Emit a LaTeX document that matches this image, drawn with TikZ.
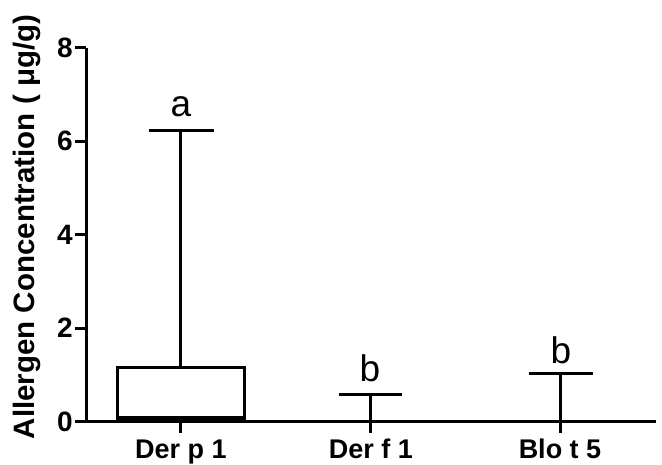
\documentclass[tikz,border=0pt]{standalone}
\usepackage{fontspec}
\setmainfont{Liberation Sans}
\begin{document}
\begin{tikzpicture}[x=1pt,y=-1pt,
  axisline/.style={line width=3pt},
  plotline/.style={line width=3pt},
  ticklab/.style={font=\fontsize{28}{28}\selectfont\bfseries, inner sep=0pt},
  grplab/.style={font=\fontsize{37}{37}\selectfont, inner sep=0pt},
  catlab/.style={font=\fontsize{27}{27}\selectfont\bfseries, inner sep=0pt}]
\useasboundingbox (0,0) rectangle (662,464);
% axes
\draw[axisline] (86,47.7) -- (86,421.7) -- (656,421.7);
\foreach \v/\n in {0/t0,2/t2,4/t4,6/t6,8/t8}{
  \draw[axisline] (75,{421.7-46.75*\v}) -- (86,{421.7-46.75*\v});
  \node[ticklab, anchor=east] (\n) at (73,{421.7-46.75*\v}) {\v};
}
\foreach \x in {180,370,560}{
  \draw[axisline] (\x,421.7) -- (\x,433);
}
\node[catlab, anchor=base] (c1) at (181,458) {Der p 1};
\node[catlab, anchor=base] (c2) at (371,458) {Der f 1};
\node[catlab, anchor=base] (c3) at (560,458) {Blo t 5};
% y label
\node[rotate=90, font=\fontsize{29.5}{29.5}\selectfont\bfseries, inner sep=0pt] (ylab) at (27,227) {Allergen Concentration ( μg/g)};
% Der p 1
\draw[plotline] (117.7,367.7) rectangle (244.3,420);
\draw[line width=4pt] (117.7,418) -- (244.3,418);
\draw[plotline] (180,367.7) -- (180,130);
\draw[plotline] (149,130) -- (214,130);
\node[grplab] (la) at (181,107) {a};
% Der f 1
\draw[plotline] (370,394.3) -- (370,421.7);
\draw[plotline] (339,394.3) -- (402,394.3);
\node[grplab] (lb1) at (370,368) {b};
% Blo t 5
\draw[plotline] (560,373) -- (560,421.7);
\draw[plotline] (529,373) -- (593,373);
\node[grplab] (lb2) at (561,350) {b};
\end{tikzpicture}
\end{document}
